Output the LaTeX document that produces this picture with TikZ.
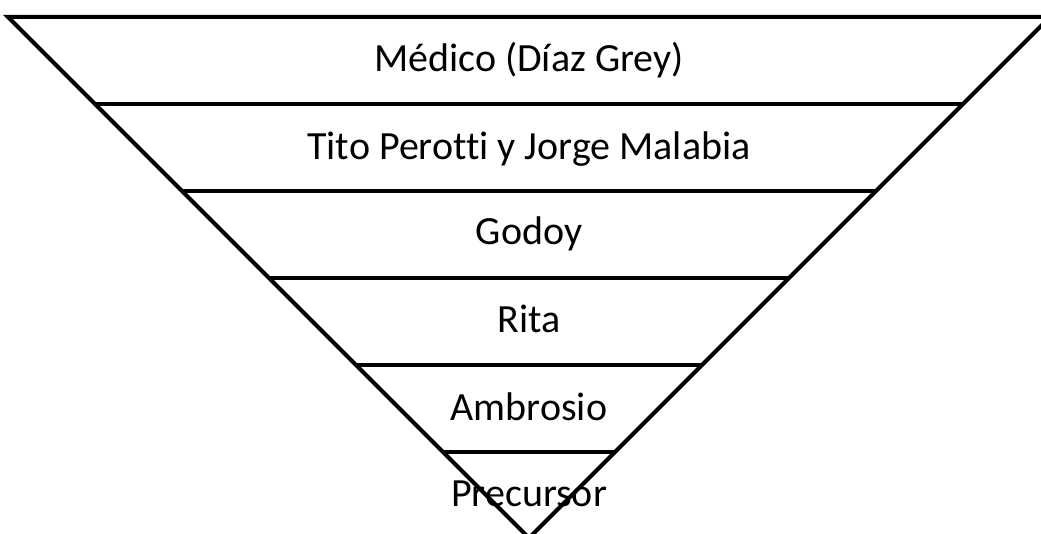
\documentclass[tikz,border=0pt]{standalone}
\usepackage{fontspec}
\setmainfont{Carlito}[Ligatures=CommonOff]
\usepackage{tikz}

\begin{document}
\begin{tikzpicture}[x=1pt,y=-1pt]
  \tikzset{level/.style = {anchor=base,inner sep=0pt,font=\fontsize{40}{44}\selectfont}}
  \tikzset{band/.style = {line width=4pt}}

	\clip (0,0) rectangle (1041,534);

	% outline of the funnel
	\draw[band] (8,17) -- (1050,17) -- (529,538) -- cycle;

	% lines between the levels
	\foreach \y in {104,191,278,365,452}
	\draw[band] ({\y-9},\y) -- ({1067-\y},\y);

	\node[level] (medico) at (529,72) {Médico (Díaz Grey)};
	\node[level] (tito) at (529,160) {Tito Perotti y Jorge Malabia};
	\node[level] (godoy) at (529,245) {Godoy};
	\node[level] (rita) at (529,333) {Rita};
	\node[level] (ambrosio) at (529,420) {Ambrosio};
	\node[level] (precursor) at (529,506) {Precursor};

\end{tikzpicture}
\end{document}
